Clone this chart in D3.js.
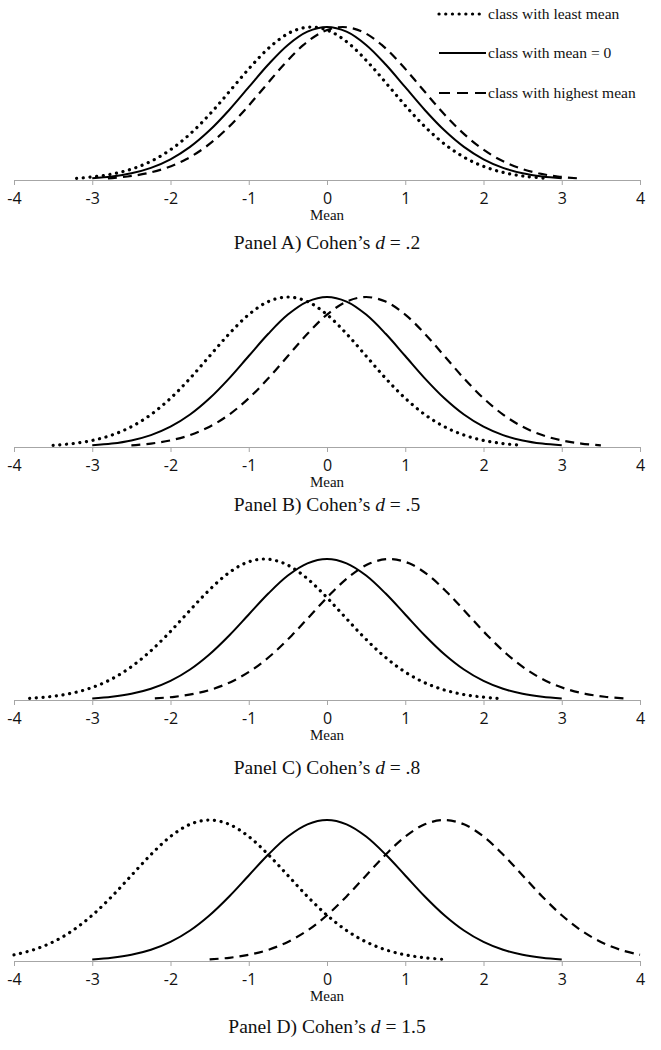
<!DOCTYPE html>
<html>
<head>
<meta charset="utf-8">
<script src="https://cdn.jsdelivr.net/npm/d3@7"></script>
<style>
  html, body { margin: 0; padding: 0; background: #fff; }
  svg { display: block; }
</style>
</head>
<body>
<svg id="chart" width="661" height="1050"></svg>
<script>
// ---- data ----
const panelNames = ["A", "B", "C", "D"];
const effectSizes = [".2", ".5", ".8", "1.5"];
const leastMeans = [-0.2, -0.5, -0.8, -1.5];
const zeroMeans = [0, 0, 0, 0];
const highestMeans = [0.2, 0.5, 0.8, 1.5];
// standard-normal density profile read as offsets from each class mean (sd units)
const profileOffsets = [-3, -2.75, -2.5, -2.25, -2, -1.75, -1.5, -1.25, -1, -0.75, -0.5, -0.25, 0,
                        0.25, 0.5, 0.75, 1, 1.25, 1.5, 1.75, 2, 2.25, 2.5, 2.75, 3];
const profileDensity = [0.0044, 0.0091, 0.0175, 0.0317, 0.0540, 0.0863, 0.1295, 0.1826, 0.2420, 0.3011, 0.3521, 0.3867, 0.3989,
                        0.3867, 0.3521, 0.3011, 0.2420, 0.1826, 0.1295, 0.0863, 0.0540, 0.0317, 0.0175, 0.0091, 0.0044];
const xTicks = [-4, -3, -2, -1, 0, 1, 2, 3, 4];
const legendLabels = ["class with least mean", "class with mean = 0", "class with highest mean"];

// ---- layout ----
const svg = d3.select("#chart");
const axisY = [180, 447, 700, 961];
const peakY = [27, 297, 559, 820];
const titleY = [249, 511, 774, 1033];
const x = d3.scaleLinear().domain([-4, 4]).range([14, 640]);
const serif = "'Liberation Serif', 'Times New Roman', serif";
const sans = "'Open Sans', 'Liberation Sans', sans-serif";

const styles = [
  { dash: "0.1,6.6", cap: "round", width: 3.2 },
  { dash: null, cap: "butt", width: 2 },
  { dash: "9,6", cap: "butt", width: 2.2 }
];

panelNames.forEach((name, i) => {
  const y = d3.scaleLinear().domain([0, d3.max(profileDensity)]).range([axisY[i], peakY[i]]);
  const g = svg.append("g");

  // axis
  const axis = d3.axisBottom(x).tickValues(xTicks).tickSize(5).tickFormat(d3.format("d"));
  const ag = g.append("g").attr("transform", `translate(0,${axisY[i]})`).call(axis);
  ag.select(".domain").attr("stroke", "#a6a6a6").attr("stroke-width", 1);
  ag.selectAll(".tick line").attr("stroke", "#a6a6a6");
  ag.selectAll(".tick text")
    .attr("font-family", sans).attr("font-size", 16).attr("fill", "#111")
    .attr("y", 13).attr("dy", "0.71em")
    .text(d => d < 0 ? "-" + Math.abs(d) : d);

  // curves
  const means = [leastMeans[i], zeroMeans[i], highestMeans[i]];
  const line = d3.line().x(d => x(d[0])).y(d => y(d[1])).curve(d3.curveCatmullRom);
  means.forEach((m, s) => {
    const pts = profileOffsets.map((o, k) => [m + o, profileDensity[k]])
      .filter(p => p[0] >= -4.0001 && p[0] <= 4.0001);
    const p = g.append("path").datum(pts)
      .attr("d", line).attr("fill", "none").attr("stroke", "#000")
      .attr("stroke-width", styles[s].width).attr("stroke-linecap", styles[s].cap);
    if (styles[s].dash) p.attr("stroke-dasharray", styles[s].dash);
  });

  // Mean label
  g.append("text").attr("x", x(0)).attr("y", axisY[i] + 40)
    .attr("text-anchor", "middle").attr("font-family", serif).attr("font-size", 15)
    .attr("fill", "#111").text("Mean");

  // panel title
  const t = g.append("text").attr("x", x(0)).attr("y", titleY[i])
    .attr("text-anchor", "middle").attr("font-family", serif).attr("font-size", 19.5).attr("fill", "#111");
  t.append("tspan").text(`Panel ${name}) Cohen\u2019s `);
  t.append("tspan").attr("font-style", "italic").text("d");
  t.append("tspan").text(` = ${effectSizes[i]}`);
});

// legend
const legendRowY = [14, 53, 93];
const legendX2 = [481, 486, 486];
const lg = svg.append("g");
legendLabels.forEach((lab, s) => {
  lg.append("line").attr("x1", 439).attr("x2", legendX2[s]).attr("y1", legendRowY[s]).attr("y2", legendRowY[s])
    .attr("stroke", "#000").attr("stroke-width", styles[s].width).attr("stroke-linecap", styles[s].cap)
    .attr("stroke-dasharray", s === 2 ? "11,7" : styles[s].dash);
  lg.append("text").attr("x", 488).attr("y", legendRowY[s] + 5)
    .attr("font-family", serif).attr("font-size", 15.5).attr("fill", "#111").text(lab);
});
</script>
</body>
</html>
